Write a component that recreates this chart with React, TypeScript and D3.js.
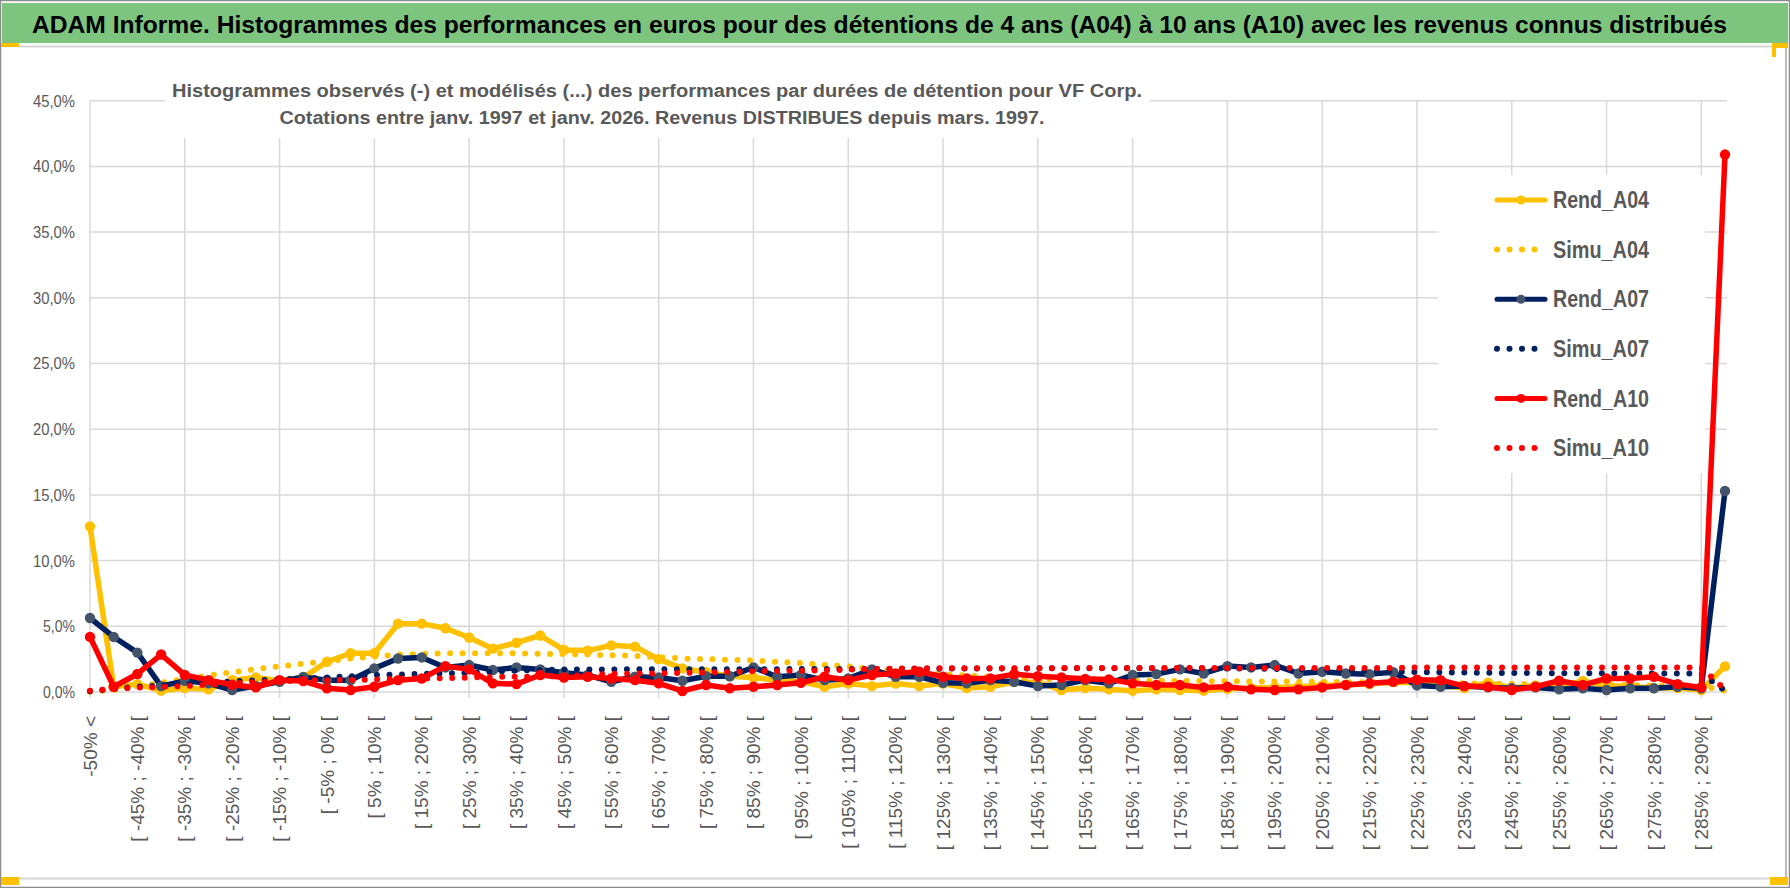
import * as d3 from "d3";

// categories (bins of 5% between -50% and 290%)
const categories = [
  "-50% <",
  "[ -50% ; -45% [", "[ -45% ; -40% [", "[ -40% ; -35% [", "[ -35% ; -30% [",
  "[ -30% ; -25% [", "[ -25% ; -20% [", "[ -20% ; -15% [", "[ -15% ; -10% [",
  "[ -10% ; -5% [", "[ -5% ; 0% [", "[ 0% ; 5% [", "[ 5% ; 10% [",
  "[ 10% ; 15% [", "[ 15% ; 20% [", "[ 20% ; 25% [", "[ 25% ; 30% [",
  "[ 30% ; 35% [", "[ 35% ; 40% [", "[ 40% ; 45% [", "[ 45% ; 50% [",
  "[ 50% ; 55% [", "[ 55% ; 60% [", "[ 60% ; 65% [", "[ 65% ; 70% [",
  "[ 70% ; 75% [", "[ 75% ; 80% [", "[ 80% ; 85% [", "[ 85% ; 90% [",
  "[ 90% ; 95% [", "[ 95% ; 100% [", "[ 100% ; 105% [", "[ 105% ; 110% [",
  "[ 110% ; 115% [", "[ 115% ; 120% [", "[ 120% ; 125% [", "[ 125% ; 130% [",
  "[ 130% ; 135% [", "[ 135% ; 140% [", "[ 140% ; 145% [", "[ 145% ; 150% [",
  "[ 150% ; 155% [", "[ 155% ; 160% [", "[ 160% ; 165% [", "[ 165% ; 170% [",
  "[ 170% ; 175% [", "[ 175% ; 180% [", "[ 180% ; 185% [", "[ 185% ; 190% [",
  "[ 190% ; 195% [", "[ 195% ; 200% [", "[ 200% ; 205% [", "[ 205% ; 210% [",
  "[ 210% ; 215% [", "[ 215% ; 220% [", "[ 220% ; 225% [", "[ 225% ; 230% [",
  "[ 230% ; 235% [", "[ 235% ; 240% [", "[ 240% ; 245% [", "[ 245% ; 250% [",
  "[ 250% ; 255% [", "[ 255% ; 260% [", "[ 260% ; 265% [", "[ 265% ; 270% [",
  "[ 270% ; 275% [", "[ 275% ; 280% [", "[ 280% ; 285% [", "[ 285% ; 290% [",
  "> 290%",
];

// values in %
const rendA04 = [
  12.6, 0.4, 0.6, 0.1, 0.3, 0.2, 0.9, 1.1, 0.85, 1.1,
  2.3, 2.95, 2.95, 5.2, 5.2, 4.85, 4.15, 3.3, 3.75, 4.3,
  3.2, 3.15, 3.55, 3.45, 2.5, 1.8, 1.5, 1.2, 1.1, 0.9,
  0.8, 0.4, 0.65, 0.45, 0.65, 0.45, 0.65, 0.3, 0.4, 0.75,
  0.75, 0.15, 0.3, 0.2, 0.1, 0.2, 0.15, 0.1, 0.25, 0.3,
  0.35, 0.4, 0.5, 0.55, 0.6, 0.75, 0.7, 0.5, 0.3, 0.7,
  0.3, 0.5, 0.4, 0.85, 0.5, 0.4, 0.3, 0.3, 0.15, 1.95,
];
const simuA04 = [
  0.02, 0.15, 0.4, 0.7, 1.0, 1.25, 1.5, 1.75, 1.95, 2.15,
  2.35, 2.55, 2.7, 2.85, 2.9, 2.95, 2.95, 2.95, 2.95, 2.9,
  2.9, 2.85, 2.8, 2.75, 2.65, 2.55, 2.5, 2.45, 2.4, 2.3,
  2.2, 2.05, 1.95, 1.75, 1.6, 1.45, 1.35, 1.25, 1.15, 1.05,
  1.0, 0.95, 0.9, 0.88, 0.86, 0.85, 0.84, 0.83, 0.82, 0.8,
  0.8, 0.78, 0.77, 0.75, 0.74, 0.72, 0.7, 0.68, 0.66, 0.64,
  0.62, 0.6, 0.58, 0.56, 0.54, 0.52, 0.5, 0.48, 0.46, 0.1,
];
const rendA07 = [
  5.63, 4.19, 3.0, 0.45, 0.85, 0.66, 0.15, 0.45, 0.78, 1.15,
  0.9, 0.9, 1.8, 2.55, 2.63, 1.87, 2.05, 1.67, 1.87, 1.72,
  1.46, 1.29, 0.78, 1.16, 1.1, 0.86, 1.2, 1.2, 1.87, 1.16,
  1.29, 0.9, 1.03, 1.72, 1.16, 1.16, 0.7, 0.66, 0.9, 0.78,
  0.45, 0.53, 0.9, 0.66, 1.29, 1.36, 1.72, 1.41, 1.97, 1.87,
  2.05, 1.41, 1.54, 1.41, 1.36, 1.5, 0.5, 0.4, 0.45, 0.35,
  0.28, 0.35, 0.2, 0.28, 0.15, 0.28, 0.28, 0.4, 0.28, 15.3,
];
const simuA07 = [
  0.05, 0.25, 0.4, 0.5, 0.6, 0.7, 0.8, 0.9, 0.95, 1.05,
  1.1, 1.2, 1.28, 1.33, 1.38, 1.41, 1.45, 1.55, 1.62, 1.68,
  1.72, 1.72, 1.72, 1.73, 1.73, 1.73, 1.74, 1.74, 1.74, 1.74,
  1.75, 1.75, 1.75, 1.75, 1.76, 1.76, 1.78, 1.78, 1.79, 1.79,
  1.8, 1.8, 1.8, 1.8, 1.8, 1.8, 1.8, 1.8, 1.79, 1.78,
  1.76, 1.72, 1.68, 1.64, 1.6, 1.56, 1.52, 1.5, 1.48, 1.46,
  1.45, 1.44, 1.43, 1.42, 1.42, 1.41, 1.41, 1.4, 1.4, 0.1,
];
const rendA10 = [
  4.19, 0.4, 1.37, 2.85, 1.3, 0.9, 0.55, 0.35, 0.9, 0.83,
  0.28, 0.15, 0.4, 0.9, 1.03, 1.97, 1.72, 0.66, 0.6, 1.29,
  1.1, 1.16, 1.03, 0.9, 0.66, 0.08, 0.53, 0.28, 0.4, 0.53,
  0.7, 1.16, 0.9, 1.29, 1.41, 1.54, 1.16, 1.03, 1.03, 1.36,
  1.2, 1.1, 1.0, 0.96, 0.66, 0.53, 0.53, 0.35, 0.4, 0.2,
  0.15, 0.2, 0.35, 0.53, 0.66, 0.78, 0.93, 0.9, 0.45, 0.4,
  0.15, 0.4, 0.86, 0.53, 1.03, 1.03, 1.16, 0.6, 0.35, 40.9,
];
const simuA10 = [
  0.1, 0.25, 0.33, 0.38, 0.45, 0.55, 0.65, 0.75, 0.82, 0.88,
  0.9, 0.92, 0.95, 1.0, 1.03, 1.05, 1.1, 1.15, 1.16, 1.18,
  1.2, 1.3, 1.38, 1.4, 1.42, 1.45, 1.48, 1.52, 1.58, 1.6,
  1.62, 1.65, 1.7, 1.75, 1.78, 1.8, 1.8, 1.8, 1.8, 1.8,
  1.8, 1.82, 1.82, 1.82, 1.82, 1.82, 1.82, 1.82, 1.82, 1.82,
  1.82, 1.82, 1.82, 1.82, 1.82, 1.82, 1.87, 1.87, 1.87, 1.87,
  1.87, 1.87, 1.87, 1.87, 1.87, 1.87, 1.87, 1.87, 1.87, 0.2,
];

const yTicks = [0, 5, 10, 15, 20, 25, 30, 35, 40, 45];

const title =
  "ADAM Informe. Histogrammes des performances en euros pour des détentions de 4 ans (A04) à 10 ans (A10) avec les revenus connus distribués";
const subtitle1 =
  "Histogrammes observés (-) et modélisés (...) des performances par durées de détention pour VF Corp.";
const subtitle2 =
  "Cotations entre janv. 1997 et janv. 2026. Revenus DISTRIBUES depuis mars. 1997.";

const W = 1790;
const H = 888;
const SANS = "'Liberation Sans', Arial, sans-serif";
const GRAY_TEXT = "#595959";
const GRID = "#d9d9d9";

const series = [
  { name: "Rend_A04", values: rendA04, color: "#FFC000", marker: "#FFC000", dotted: false },
  { name: "Simu_A04", values: simuA04, color: "#FFC000", marker: "", dotted: true },
  { name: "Rend_A07", values: rendA07, color: "#002060", marker: "#44546A", dotted: false },
  { name: "Simu_A07", values: simuA07, color: "#002060", marker: "", dotted: true },
  { name: "Rend_A10", values: rendA10, color: "#FF0000", marker: "#FF0000", dotted: false },
  { name: "Simu_A10", values: simuA10, color: "#FF0000", marker: "", dotted: true },
];

export default function App() {
  const x = d3.scalePoint<string>().domain(categories).range([90, 1725]);
  const y = d3.scaleLinear().domain([0, 45]).range([692, 100.7]);
  const plotRight = 1727;

  const line = d3
    .line<number>()
    .x((_, i) => x(categories[i]) as number)
    .y((d) => y(d));

  const gridCats = categories.filter((_, i) => i % 4 === 0);
  const labelCats = categories.filter((_, i) => i % 2 === 0);

  return (
    <div style={{ position: "absolute", left: 0, top: 0 }}>
      <svg width={W} height={H} style={{ display: "block", background: "#fff" }}>
        {/* frame */}
        <rect x={0.5} y={0.5} width={W - 1} height={H - 1} fill="#fff" stroke="#8c8c8c" strokeWidth={1.5} />
        <rect x={2} y={3} width={W - 4} height={40} fill="#7DC57F" />
        <line x1={18} x2={W - 18} y1={46.5} y2={46.5} stroke="#d6d6d6" strokeWidth={2} />
        <line x1={18} x2={W - 4} y1={878.5} y2={878.5} stroke="#d6d6d6" strokeWidth={2} />
        <line x1={1786} x2={1786} y1={46} y2={880} stroke="#a6a6a6" strokeWidth={1.5} />
        <rect x={1} y={43} width={18} height={4} fill="#FFC000" />
        <rect x={1772} y={43} width={16} height={5} fill="#FFC000" />
        <rect x={1772} y={43} width={4} height={14} fill="#FFC000" />
        <rect x={1} y={877} width={18} height={8} fill="#FFC000" />
        <rect x={1770} y={877} width={18} height={8} fill="#FFC000" />

        <text
          x={32}
          y={33}
          fontFamily={SANS}
          fontWeight="bold"
          fontSize={23.5}
          fill="#000"
          textLength={1695}
          lengthAdjust="spacingAndGlyphs"
        >
          {title}
        </text>

        {/* grid */}
        {yTicks.map((t) => (
          <line key={"h" + t} x1={90} x2={plotRight} y1={y(t)} y2={y(t)} stroke={GRID} strokeWidth={1.5} />
        ))}
        {gridCats.map((c) => (
          <line key={"v" + c} x1={x(c)} x2={x(c)} y1={y(45)} y2={698} stroke={GRID} strokeWidth={1.5} />
        ))}

        {/* y labels */}
        {yTicks.map((t) => (
          <text
            key={"yl" + t}
            x={75}
            y={y(t)}
            dy="0.35em"
            textAnchor="end"
            fontFamily={SANS}
            fontSize={17}
            fill={GRAY_TEXT}
            textLength={t < 10 ? 32 : 42}
            lengthAdjust="spacingAndGlyphs"
          >
            {t.toFixed(1).replace(".", ",") + "%"}
          </text>
        ))}

        {/* x labels */}
        {labelCats.map((c) => (
          <text
            key={"xl" + c}
            transform={`translate(${x(c)},716) rotate(-90)`}
            dy="0.35em"
            textAnchor="end"
            fontFamily={SANS}
            fontSize={19}
            fill={GRAY_TEXT}
          >
            {c}
          </text>
        ))}

        {/* subtitle box */}
        <rect x={165} y={58} width={985} height={80} fill="#fff" />
        <text
          x={657}
          y={96.5}
          textAnchor="middle"
          fontFamily={SANS}
          fontWeight="bold"
          fontSize={18.7}
          fill={GRAY_TEXT}
          textLength={970}
          lengthAdjust="spacingAndGlyphs"
        >
          {subtitle1}
        </text>
        <text
          x={662}
          y={124}
          textAnchor="middle"
          fontFamily={SANS}
          fontWeight="bold"
          fontSize={18.7}
          fill={GRAY_TEXT}
          textLength={765}
          lengthAdjust="spacingAndGlyphs"
        >
          {subtitle2}
        </text>

        {/* series */}
        {series.map((s) => (
          <g key={s.name}>
            <path
              d={line(s.values) ?? ""}
              fill="none"
              stroke={s.color}
              strokeWidth={s.dotted ? 6 : 5.5}
              strokeLinejoin="round"
              strokeLinecap="round"
              strokeDasharray={s.dotted ? "0 12.5" : undefined}
            />
            {!s.dotted &&
              s.values.map((v, i) => (
                <circle key={i} cx={x(categories[i])} cy={y(v)} r={5.2} fill={s.marker} />
              ))}
          </g>
        ))}

        {/* legend */}
        <rect x={1438} y={175} width={267} height={298} fill="#fff" />
        {series.map((s, i) => {
          const ly = 200 + i * 49.6;
          return (
            <g key={"lg" + s.name}>
              <line
                x1={1497}
                x2={1545}
                y1={ly}
                y2={ly}
                stroke={s.color}
                strokeWidth={s.dotted ? 6 : 5}
                strokeLinecap="round"
                strokeDasharray={s.dotted ? "0 12.5" : undefined}
              />
              {!s.dotted && <circle cx={1521} cy={ly} r={4.5} fill={s.marker} />}
              <text
                x={1553}
                y={ly}
                dy="0.36em"
                fontFamily={SANS}
                fontWeight="bold"
                fontSize={23}
                fill={GRAY_TEXT}
                textLength={96}
                lengthAdjust="spacingAndGlyphs"
              >
                {s.name}
              </text>
            </g>
          );
        })}
      </svg>
    </div>
  );
}
